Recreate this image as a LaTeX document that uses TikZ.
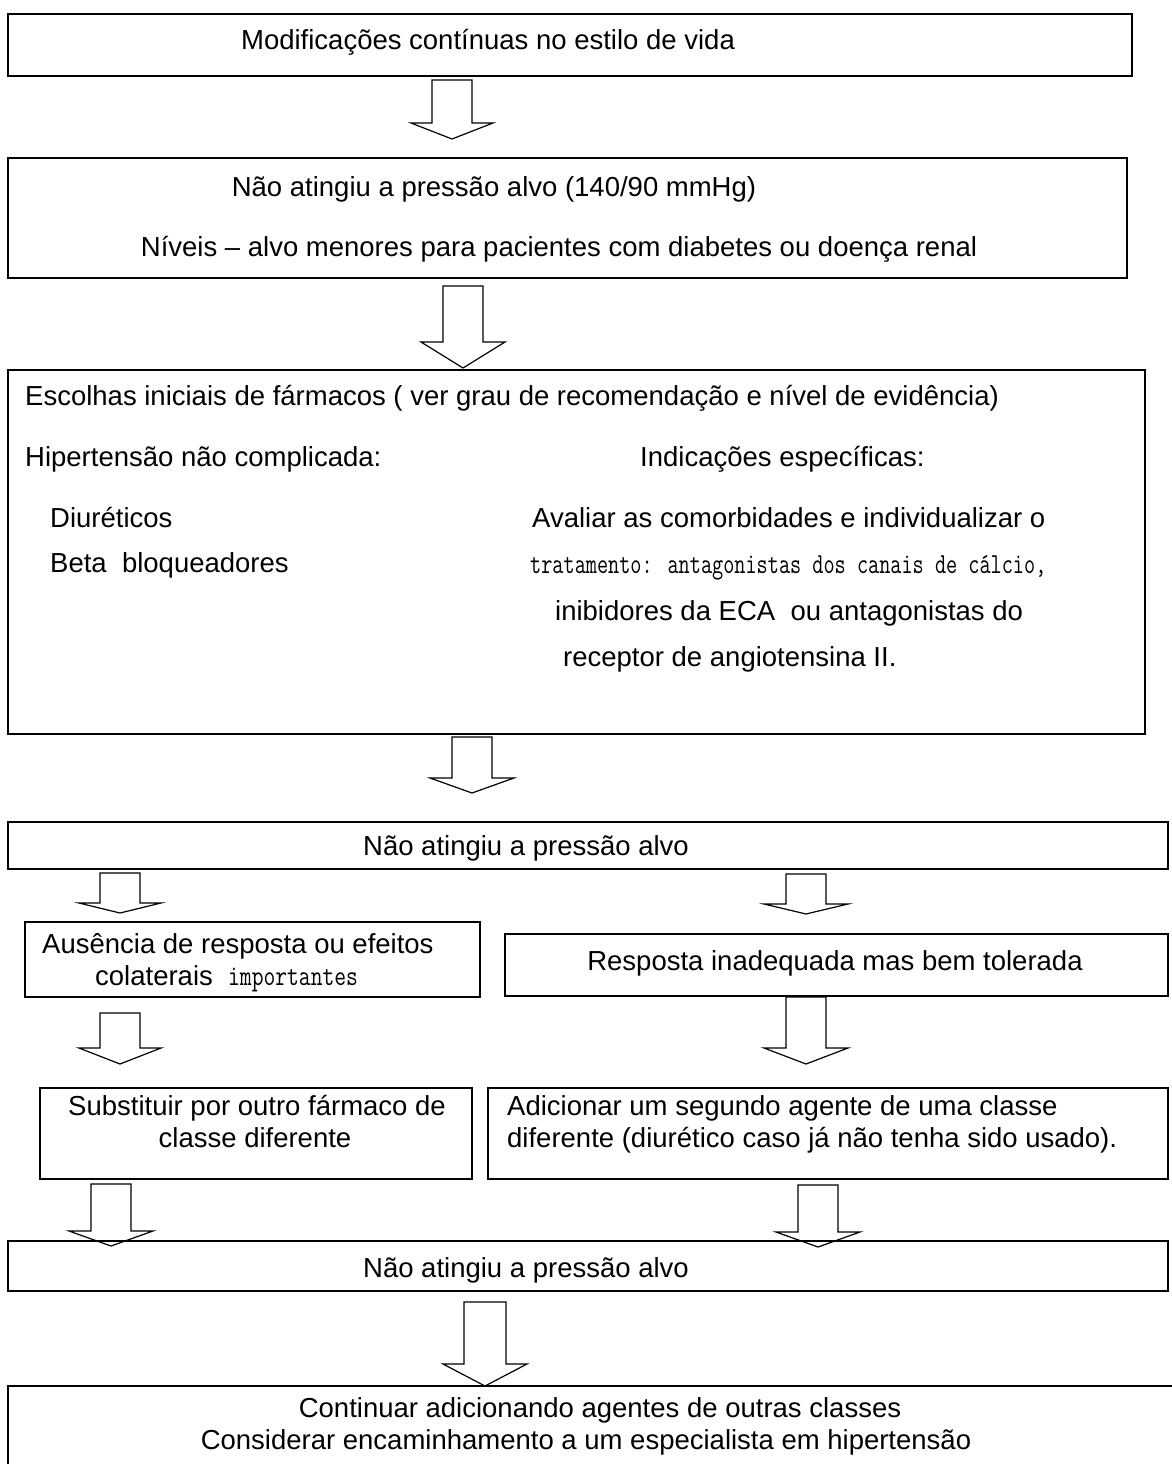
\documentclass[tikz,border=0pt]{standalone}
\usepackage{fontspec}
\setmainfont{Liberation Sans}
\newcommand\blkarrow[6]{%
  \draw[barrow] ({#1-#5},#2) -- ({#1+#5},#2) -- ({#1+#5},#3) -- ({#1+#6},#3)
    -- (#1,#4) -- ({#1-#6},#3) -- ({#1-#5},#3) -- cycle;}
\begin{document}
\begin{tikzpicture}[x=1pt,y=-1pt,
  box/.style={draw, line width=1.3pt},
  txt/.style={inner sep=0pt, font=\fontsize{27.5}{33}\selectfont},
  tw/.style={inner sep=0pt, font=\ttfamily\fontsize{29}{33}\selectfont},
  barrow/.style={draw, line width=1.2pt, line join=miter}]
\useasboundingbox (0,0) rectangle (1171,1464);

% boxes
\draw[box] (8,14) rectangle (1132,76) coordinate (b1);
\draw[box] (8,158) rectangle (1127,278) coordinate (b2);
\draw[box] (8,370) rectangle (1145,734) coordinate (b3);
\draw[box] (8,822) rectangle (1168,869) coordinate (b4);
\draw[box] (25,922) rectangle (480,997) coordinate (b5l);
\draw[box] (505,934) rectangle (1168,996) coordinate (b5r);
\draw[box] (40,1088) rectangle (472,1179) coordinate (b6l);
\draw[box] (488,1088) rectangle (1168,1179) coordinate (b6r);
\draw[box] (8,1241) rectangle (1168,1291) coordinate (b7);
\draw[box] (8,1386) rectangle (1190,1490) coordinate (b8);

% texts
\node[txt, anchor=base] (t1) at (488,50) {Modificações contínuas no estilo de vida};
\node[txt, anchor=base] (t2a) at (494,196) {Não atingiu a pressão alvo (140/90 mmHg)};
\node[txt, anchor=base] (t2b) at (559,256) {Níveis – alvo menores para pacientes com diabetes ou doença renal};

\node[txt, anchor=base west] (t3a) at (25,405) {Escolhas iniciais de fármacos ( ver grau de recomendação e nível de evidência)};
\node[txt, anchor=base west] (t3b) at (25,466) {Hipertensão não complicada:};
\node[txt, anchor=base west] (t3c) at (640,466) {Indicações específicas:};
\node[txt, anchor=base west] (t3d) at (50,527) {Diuréticos};
\node[txt, anchor=base west] (t3e) at (50,572) {Beta\ \ bloqueadores};
\node[txt, anchor=base west] (t3f) at (532,527) {Avaliar as comorbidades e individualizar o};
\node[tw, anchor=base west] (t3g) at (530,573) {\scalebox{0.746}[1]{tratamento: antagonistas dos canais de cálcio,}};
\node[txt, anchor=base west] (t3h) at (555,620) {inibidores da ECA\ \ ou antagonistas do};
\node[txt, anchor=base west] (t3i) at (563,666) {receptor de angiotensina II.};

\node[txt, anchor=base] (t4) at (526,855) {Não atingiu a pressão alvo};

\node[txt, anchor=base west] (t5a) at (42,953) {Ausência de resposta ou efeitos};
\node[txt, anchor=base west] (t5b) at (95,985) {colaterais\ \ {\ttfamily\fontsize{29}{33}\selectfont\scalebox{0.79}[1]{importantes}}};
\node[txt, anchor=base] (t5c) at (835,970) {Resposta inadequada mas bem tolerada};

\node[txt, anchor=base] (t6a) at (257,1115) {Substituir por outro fármaco de};
\node[txt, anchor=base] (t6b) at (255,1147) {classe diferente};
\node[txt, anchor=base west] (t6c) at (507,1115) {Adicionar um segundo agente de uma classe};
\node[txt, anchor=base west] (t6d) at (507,1147) {diferente (diurético caso já não tenha sido usado).};

\node[txt, anchor=base] (t7) at (526,1277) {Não atingiu a pressão alvo};

\node[txt, anchor=base] (t8a) at (600,1417) {Continuar adicionando agentes de outras classes};
\node[txt, anchor=base] (t8b) at (586,1449) {Considerar encaminhamento a um especialista em hipertensão};

% block arrows: cx, top, base, tip, half shaft, half head
\blkarrow{452}{80}{123}{139}{20}{41}
\blkarrow{463}{286}{342}{368}{20}{42}
\blkarrow{472}{737}{778}{793}{20}{42}
\blkarrow{120}{873}{903}{913}{20}{41}
\blkarrow{806}{874}{904}{914}{20}{42}
\blkarrow{120}{1013}{1048}{1064}{20}{41}
\blkarrow{806}{997}{1048}{1064}{20}{42}
\blkarrow{111}{1184}{1231}{1246}{20}{42}
\blkarrow{818}{1185}{1232}{1247}{20}{42}
\blkarrow{485}{1302}{1364}{1386}{21}{42}
\end{tikzpicture}
\end{document}
